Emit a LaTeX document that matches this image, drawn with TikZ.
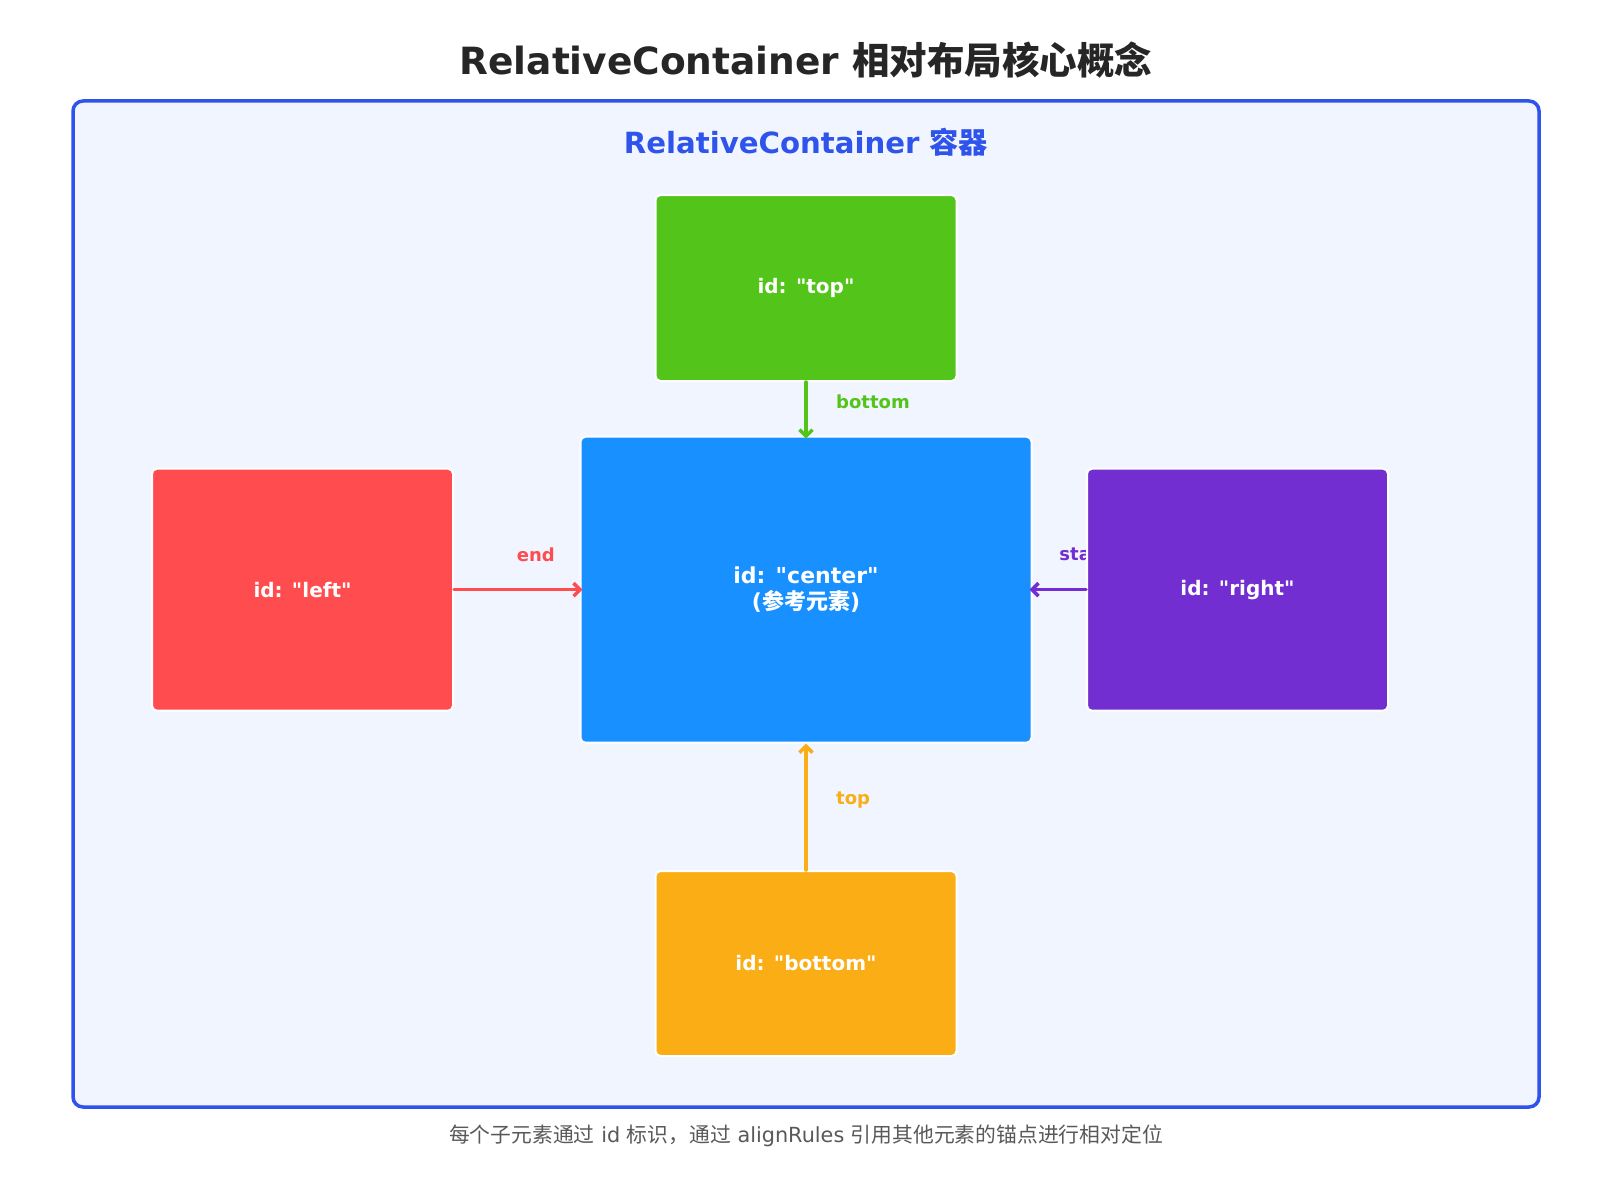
\documentclass[tikz,border=0pt]{standalone}
\usepackage{fontspec}
\setmainfont{DejaVu Sans}
% plain family without TeX ligature mapping, so " stays a straight quote
\newfontfamily\dv{DejaVu Sans}
\newfontfamily\cjk{Noto Sans CJK SC}
\usetikzlibrary{arrows.meta,calc}

\definecolor{ink}{HTML}{262626}
\definecolor{frame}{HTML}{2F54EB}
\definecolor{framefill}{HTML}{F0F5FF}
\definecolor{cgreen}{HTML}{52C41A}
\definecolor{cblue}{HTML}{1890FF}
\definecolor{cred}{HTML}{FF4D4F}
\definecolor{cpurple}{HTML}{722ED1}
\definecolor{corange}{HTML}{FAAD14}
\definecolor{note}{HTML}{595959}

\pgfdeclarelayer{bg}
\pgfdeclarelayer{lbl}
\pgfsetlayers{bg,lbl,main}

\begin{document}
\begin{tikzpicture}[x=1pt,y=-1pt,
  box/.style={draw=white, line width=2pt, rounded corners=5pt, inner sep=0pt,
    text=white, align=center, font=\dv\fontsize{20}{24}\selectfont\bfseries},
  link/.style={line width=3.5pt, line cap=round, line join=round,
    -{Straight Barb[length=6.5pt,width=13pt]}},
  tag/.style={inner sep=0pt, font=\dv\fontsize{18}{22}\selectfont\bfseries}]

\useasboundingbox (0,0) rectangle (1611,1180);

% page and container
\begin{pgfonlayer}{bg}
\fill[white] (0,0) rectangle (1611,1180);
\draw[frame, fill=framefill, line width=3.5pt, rounded corners=10pt]
  (73,101) rectangle (1539,1107);
\end{pgfonlayer}

% title
\node[text=ink, font=\dv\fontsize{37.5}{44}\selectfont\bfseries] (title) at (806,60)
  {RelativeContainer {\cjk 相对布局核心概念}};
\node[text=frame, font=\dv\fontsize{29.2}{35}\selectfont\bfseries] (ctitle) at (806,142)
  {RelativeContainer {\cjk 容器}};

% child elements
\node[box, fill=cgreen, minimum width=301pt, minimum height=186pt] (top) at (806,288)
  {id: "top"};
\node[box, fill=cblue, minimum width=451pt, minimum height=306pt,
  font=\dv\fontsize{22}{26}\selectfont\bfseries] (center) at (806,589.7)
  {id: "center"\\({\cjk 参考元素})};
\node[box, fill=cred, minimum width=301pt, minimum height=242pt] (left) at (302.5,589.7)
  {id: "left"};
\node[box, fill=cpurple, minimum width=301pt, minimum height=242pt] (right) at (1237.5,589.7)
  {id: "right"};
\node[box, fill=corange, minimum width=301pt, minimum height=185pt] (bottom) at (806,963.5)
  {id: "bottom"};

% alignment links
\draw[link, cgreen] (top.south) -- ([yshift=-3pt]center.north);
\draw[link, cred] (left.east) -- ([xshift=3pt]center.west);
\draw[link, cpurple] (right.west) -- ([xshift=-3pt]center.east);
\draw[link, corange] (bottom.north) -- (center.south);

% link labels (kept beneath the boxes)
\begin{pgfonlayer}{lbl}
\node[tag, text=cgreen, anchor=west] (lbottom) at ($($(top.south)!.5!(center.north)$)+(30,-7)$) {bottom};
\node[tag, text=cred, anchor=west] (lend) at ($($(left.east)!.5!(center.west)$)+(0,-35)$) {end};
\node[tag, text=cpurple, anchor=west] (lstart) at ($($(right.west)!.5!(center.east)$)+(0,-35)$) {start};
\node[tag, text=corange, anchor=west] (ltop) at ($($(bottom.north)!.5!(center.south)$)+(30,-7)$) {top};
\end{pgfonlayer}

% footnote
\node[text=note, font=\dv\fontsize{20.8}{25}\selectfont] (foot) at (806,1136)
  {{\cjk 每个子元素通过} id {\cjk 标识，通过} alignRules {\cjk 引用其他元素的锚点进行相对定位}};

\end{tikzpicture}
\end{document}
